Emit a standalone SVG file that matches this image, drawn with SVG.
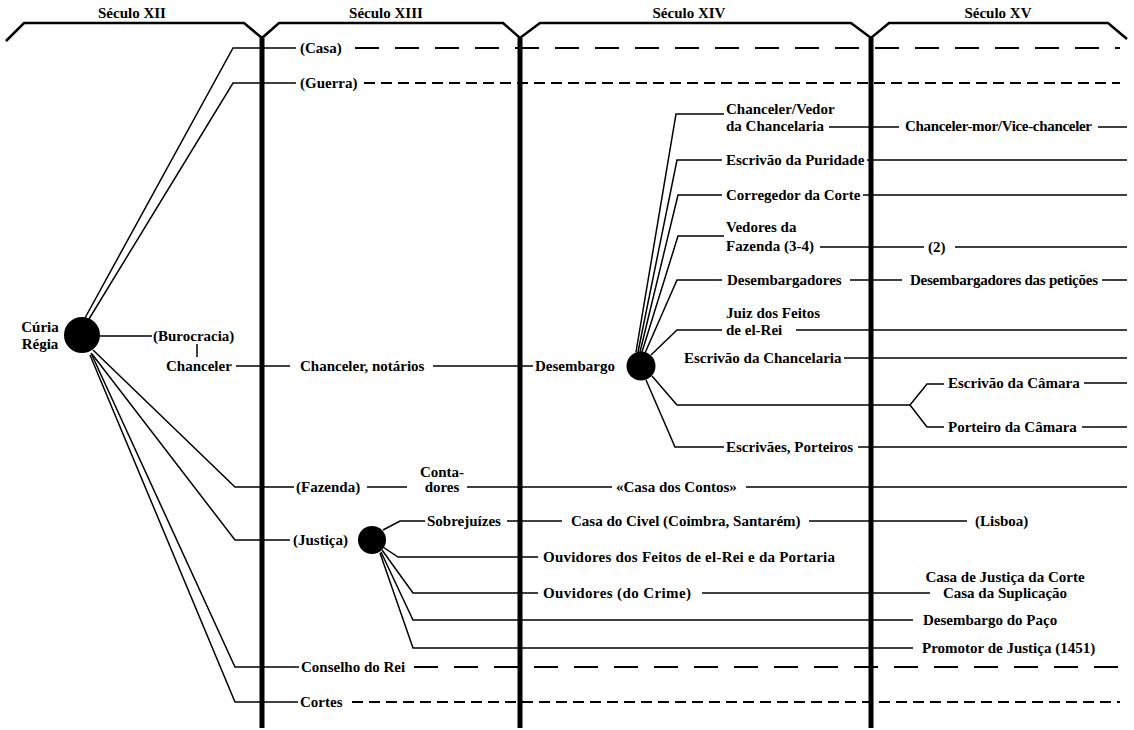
<svg xmlns="http://www.w3.org/2000/svg" width="1134" height="730" viewBox="0 0 1134 730">
<style>
text{font-family:"Liberation Serif","Times New Roman",serif;font-weight:bold;font-size:15px;fill:#000}
.m{text-anchor:middle}
.c{fill:none;stroke:#000;stroke-width:1.5}
.era{fill:none;stroke:#000;stroke-width:5}
.hd{fill:none;stroke:#000;stroke-width:2.5}
.ld{fill:none;stroke:#000;stroke-width:2;stroke-dasharray:24 16}
.sd{fill:none;stroke:#000;stroke-width:2;stroke-dasharray:11 6}
.dot{fill:#000}
</style>
<rect width="1134" height="730" fill="#fff"/>
<g id="header">
<polyline class="hd" points="6,41 24,23 244,23 262,38 279,23 503,23 520,38 540,23 851,23 871,38 889,23 1108,23 1127,39"/>
<text class="m" x="132" y="18">Século XII</text>
<text class="m" x="386" y="18">Século XIII</text>
<text class="m" x="689" y="18">Século XIV</text>
<text class="m" x="998" y="18">Século XV</text>
</g>
<g id="eras">
<line class="era" x1="262" y1="38" x2="262" y2="728"/>
<line class="era" x1="520" y1="38" x2="520" y2="728"/>
<line class="era" x1="871" y1="38" x2="871" y2="728"/>
</g>
<g id="connectors">
<polyline class="c" points="85,318 233,48 296,48"/>
<line class="ld" x1="355" y1="48" x2="1120" y2="48"/>
<polyline class="c" points="89,319 233,83 296,83"/>
<line class="sd" x1="364" y1="83" x2="1120" y2="83"/>
<line class="c" x1="100" y1="336" x2="152" y2="336"/>
<line class="c" x1="197" y1="344" x2="197" y2="357"/>
<line class="c" x1="236" y1="366" x2="290" y2="366"/>
<line class="c" x1="433" y1="366" x2="533" y2="366"/>
<polyline class="c" points="93,350 235,487 294,487"/>
<line class="c" x1="367" y1="487" x2="407" y2="487"/>
<line class="c" x1="467" y1="487" x2="612" y2="487"/>
<line class="c" x1="746" y1="487" x2="1127" y2="487"/>
<polyline class="c" points="92,354 235,540 290,540"/>
<polyline class="c" points="91,353 235,667 299,667"/>
<line class="ld" x1="414" y1="667" x2="1120" y2="667"/>
<polyline class="c" points="90,355 235,702 298,702"/>
<line class="sd" x1="352" y1="702" x2="1120" y2="702"/>
<polyline class="c" points="636,352 676,114 724,114"/>
<line class="c" x1="829" y1="127" x2="899" y2="127"/>
<line class="c" x1="1098" y1="127" x2="1127" y2="127"/>
<polyline class="c" points="638,352 677,160 722,160"/>
<line class="c" x1="867" y1="160" x2="1127" y2="160"/>
<polyline class="c" points="640,352 678,195 722,195"/>
<line class="c" x1="863" y1="195" x2="1127" y2="195"/>
<polyline class="c" points="642,352 678,236 724,236"/>
<line class="c" x1="820" y1="247" x2="924" y2="247"/>
<line class="c" x1="955" y1="247" x2="1127" y2="247"/>
<polyline class="c" points="645,353 677,280 722,280"/>
<line class="c" x1="850" y1="280" x2="902" y2="280"/>
<line class="c" x1="1102" y1="280" x2="1127" y2="280"/>
<polyline class="c" points="651,355 677,330 722,330"/>
<line class="c" x1="796" y1="330" x2="1127" y2="330"/>
<line class="c" x1="844" y1="358" x2="1127" y2="358"/>
<polyline class="c" points="652,376 677,405 910,405"/>
<polyline class="c" points="944,384 927,384 910,405 927,427 944,427"/>
<line class="c" x1="1084" y1="383" x2="1127" y2="383"/>
<line class="c" x1="1082" y1="427" x2="1127" y2="427"/>
<polyline class="c" points="646,380 675,447 724,447"/>
<line class="c" x1="858" y1="447" x2="1127" y2="447"/>
<polyline class="c" points="383,530 400,521 425,521"/>
<line class="c" x1="507" y1="521" x2="562" y2="521"/>
<line class="c" x1="809" y1="521" x2="967" y2="521"/>
<polyline class="c" points="383,547 398,557 538,557"/>
<polyline class="c" points="382,550 413,593 538,593"/>
<line class="c" x1="702" y1="593" x2="930" y2="593"/>
<polyline class="c" points="381,552 413,620 913,620"/>
<polyline class="c" points="380,553 413,648 913,648"/>
</g>
<g id="curia"><circle class="dot" cx="82" cy="335" r="18"/><text class="m" x="40" y="332">Cúria</text><text class="m" x="40" y="349">Régia</text></g>
<g id="casa"><text x="300" y="53">(Casa)</text></g>
<g id="guerra"><text x="300" y="88">(Guerra)</text></g>
<g id="burocracia"><text x="153" y="341">(Burocracia)</text></g>
<g id="chanceler"><text x="166" y="371">Chanceler</text></g>
<g id="chanceler-notarios"><text x="300" y="371">Chanceler, notários</text></g>
<g id="desembargo"><text x="535" y="371">Desembargo</text><circle class="dot" cx="641" cy="366" r="14.5"/></g>
<g id="chanceler-vedor"><text x="726" y="114">Chanceler/Vedor</text><text x="726" y="131">da Chancelaria</text></g>
<g id="chanceler-mor"><text x="905" y="131" textLength="187">Chanceler-mor/Vice-chanceler</text></g>
<g id="puridade"><text x="726" y="165">Escrivão da Puridade</text></g>
<g id="corregedor"><text x="726" y="200">Corregedor da Corte</text></g>
<g id="vedores"><text x="726" y="232">Vedores da</text><text x="726" y="251">Fazenda (3-4)</text></g>
<g id="dois"><text x="928" y="252">(2)</text></g>
<g id="desembargadores"><text x="727" y="285">Desembargadores</text></g>
<g id="peticoes"><text x="910" y="285" textLength="188">Desembargadores das petições</text></g>
<g id="juiz"><text x="726" y="318">Juiz dos Feitos</text><text x="726" y="335">de el-Rei</text></g>
<g id="escrivao-chancelaria"><text x="684" y="363">Escrivão da Chancelaria</text></g>
<g id="escrivao-camara"><text x="948" y="388">Escrivão da Câmara</text></g>
<g id="porteiro-camara"><text x="948" y="432">Porteiro da Câmara</text></g>
<g id="escrivaes"><text x="726" y="452">Escrivães, Porteiros</text></g>
<g id="fazenda"><text x="296" y="492">(Fazenda)</text></g>
<g id="contadores"><text class="m" x="442" y="477">Conta-</text><text class="m" x="442" y="492">dores</text></g>
<g id="casa-contos"><text x="616" y="492">«Casa dos Contos»</text></g>
<g id="justica"><text x="293" y="545">(Justiça)</text><circle class="dot" cx="372" cy="540" r="14"/></g>
<g id="sobrejuizes"><text x="427" y="526">Sobrejuízes</text></g>
<g id="casa-civel"><text x="571" y="526">Casa do Civel (Coimbra, Santarém)</text></g>
<g id="lisboa"><text x="975" y="526">(Lisboa)</text></g>
<g id="ouvidores-feitos"><text x="543" y="562" textLength="292">Ouvidores dos Feitos de el-Rei e da Portaria</text></g>
<g id="ouvidores-crime"><text x="543" y="598" textLength="148">Ouvidores (do Crime)</text></g>
<g id="casa-justica"><text class="m" x="1005" y="582">Casa de Justiça da Corte</text><text class="m" x="1005" y="598">Casa da Suplicação</text></g>
<g id="desembargo-paco"><text x="923" y="625">Desembargo do Paço</text></g>
<g id="promotor"><text x="922" y="653">Promotor de Justiça (1451)</text></g>
<g id="conselho"><text x="301" y="672">Conselho do Rei</text></g>
<g id="cortes"><text x="300" y="707">Cortes</text></g>
</svg>
